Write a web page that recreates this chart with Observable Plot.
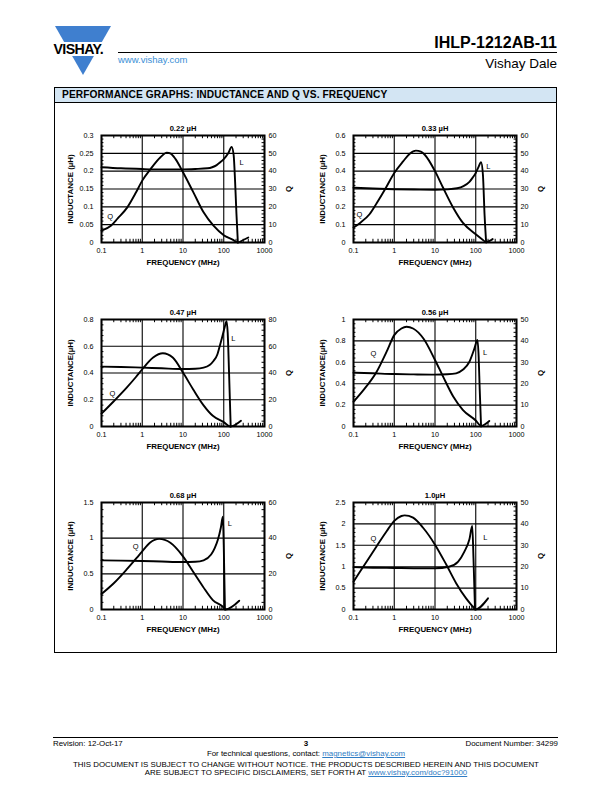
<!DOCTYPE html>
<html>
<head>
<meta charset="utf-8">
<script src="https://cdn.jsdelivr.net/npm/d3@7"></script>
<script src="https://cdn.jsdelivr.net/npm/@observablehq/plot@0.6"></script>
<style>
body { margin: 0; background: #fff; }
#page { position: relative; width: 612px; height: 792px; font-family: "Liberation Sans", Arial, Helvetica, sans-serif; color: #000; overflow: hidden; background: #fff; }
.abs { position: absolute; white-space: nowrap; line-height: 1; }
.chart { position: absolute; }
a { color: #2f7cc4; text-decoration: underline; }
</style>
</head>
<body>
<div id="page">
  <svg class="abs" style="left:50px;top:24px" width="66" height="54" viewBox="50 24 66 54">
    <polygon points="55,26 111,26 83,75" fill="#3f7fcf"/>
    <rect x="50" y="42" width="66" height="14" fill="#fff"/>
    <text x="53.5" y="53.5" font-family="Liberation Sans, Arial, sans-serif" font-weight="bold" font-size="14.2" letter-spacing="-0.6" fill="#000">VISHAY.</text>
  </svg>
  <div class="abs" style="right:55px;top:35px;font-size:16px;font-weight:bold;">IHLP-1212AB-11</div>
  <div class="abs" style="left:118px;top:52px;width:439px;height:1px;background:#000;"></div>
  <div class="abs" style="left:118px;top:55px;font-size:9.5px;color:#3b8fd6;">www.vishay.com</div>
  <div class="abs" style="right:55px;top:57px;font-size:13.5px;">Vishay Dale</div>

  <div class="abs" style="left:54px;top:87px;width:501px;height:564px;border:1px solid #000;"></div>
  <div class="abs" style="left:55px;top:88px;width:501px;height:14px;background:#d3e5f3;border-bottom:1px solid #000;"></div>
  <div class="abs" style="left:62px;top:89.5px;font-size:10.2px;font-weight:bold;letter-spacing:0.1px;">PERFORMANCE GRAPHS: INDUCTANCE AND Q VS. FREQUENCY</div>

  <div class="abs" style="left:53px;top:737px;width:505px;height:1px;background:#000;"></div>
  <div class="abs" style="left:53px;top:739.5px;font-size:7.9px;">Revision: 12-Oct-17</div>
  <div class="abs" style="left:300px;top:740px;width:12px;text-align:center;font-size:8px;font-weight:bold;">3</div>
  <div class="abs" style="right:54px;top:739.5px;font-size:7.9px;">Document Number: 34299</div>
  <div class="abs" style="left:0;width:612px;text-align:center;top:750px;font-size:7.9px;">For technical questions, contact: <a>magnetics@vishay.com</a></div>
  <div class="abs" style="left:0;width:612px;text-align:center;top:760.5px;font-size:7.9px;">THIS DOCUMENT IS SUBJECT TO CHANGE WITHOUT NOTICE. THE PRODUCTS DESCRIBED HEREIN AND THIS DOCUMENT</div>
  <div class="abs" style="left:0;width:612px;text-align:center;top:769px;font-size:7.9px;">ARE SUBJECT TO SPECIFIC DISCLAIMERS, SET FORTH AT <a>www.vishay.com/doc?91000</a></div>
</div>
<script>
// ---- shared axis ticks ----
const freqTicks = [0.1, 1, 10, 100, 1000];

// ---- 0.22 uH ----
const l022Ticks = [0, 0.05, 0.1, 0.15, 0.2, 0.25, 0.3];
const q022Ticks = [0, 10, 20, 30, 40, 50, 60];
const l022F = [0.1, 0.3, 1, 3, 10, 20, 40, 52, 67, 82, 100, 130, 156, 175, 190, 205, 222];
const l022L = [0.211, 0.208, 0.206, 0.205, 0.205, 0.206, 0.208, 0.211, 0.217, 0.225, 0.234, 0.251, 0.268, 0.245, 0.17, 0.08, 0.0];
const q022F = [0.1, 0.17, 0.25, 0.43, 0.7, 1, 1.6, 2.8, 4, 5, 6.5, 10, 18, 32, 56, 100, 170, 222, 300, 400];
const q022Q = [6.6, 9.4, 13.5, 19.7, 28, 34.7, 41.2, 47.8, 50.4, 49.8, 46.9, 39.4, 28.1, 16.9, 9.4, 4.1, 1.5, 0, 1.4, 2.8];

// ---- 0.33 uH ----
const l033Ticks = [0, 0.1, 0.2, 0.3, 0.4, 0.5, 0.6];
const q033Ticks = [0, 10, 20, 30, 40, 50, 60];
const l033F = [0.1, 0.3, 1, 3, 10, 20, 35, 50, 70, 85, 100, 115, 135, 150, 165, 180];
const l033L = [0.307, 0.303, 0.299, 0.297, 0.296, 0.298, 0.304, 0.316, 0.34, 0.365, 0.39, 0.42, 0.45, 0.38, 0.15, 0.0];
const q033F = [0.1, 0.145, 0.25, 0.37, 0.6, 1, 1.65, 2.4, 3.4, 4.5, 5.6, 10, 15.8, 28, 48, 100, 140, 180, 260];
const q033Q = [8.4, 11, 16, 22, 30, 39, 45.5, 49.8, 51.5, 51, 49.2, 40, 30.7, 19.5, 11.1, 4.6, 2, 0.3, 1.9];

// ---- 0.47 uH ----
const l047Ticks = [0, 0.2, 0.4, 0.6, 0.8];
const q047Ticks = [0, 20, 40, 60, 80];
const l047F = [0.1, 0.3, 1, 3, 10, 20, 32, 45, 56, 70, 78, 90, 105, 117, 125, 135, 148];
const l047L = [0.448, 0.445, 0.44, 0.435, 0.43, 0.432, 0.44, 0.46, 0.49, 0.54, 0.59, 0.66, 0.74, 0.787, 0.7, 0.4, 0.0];
const q047F = [0.1, 0.2, 0.41, 0.7, 1, 1.85, 3.2, 5.6, 10, 17.8, 31, 54, 100, 145, 265];
const q047Q = [9.6, 18.9, 28.9, 37, 42.8, 51.6, 54.8, 51.6, 40.3, 27.7, 16.4, 8, 3.3, 0, 4.3];

// ---- 0.56 uH ----
const l056Ticks = [0, 0.2, 0.4, 0.6, 0.8, 1];
const q056Ticks = [0, 10, 20, 30, 40, 50];
const l056F = [0.1, 0.3, 1, 3, 10, 20, 33, 48, 70, 93, 110, 118, 125, 135];
const l056L = [0.503, 0.497, 0.49, 0.487, 0.485, 0.488, 0.497, 0.53, 0.605, 0.73, 0.81, 0.65, 0.35, 0.0];
const q056F = [0.1, 0.175, 0.37, 0.65, 1, 1.5, 2, 2.9, 5.2, 10, 15.8, 28, 48, 100, 135, 215];
const q056Q = [11.6, 17, 25.6, 35, 42.7, 45.8, 46.6, 45.8, 41.1, 31.1, 23.3, 14, 7.8, 2.8, 0.3, 2.6];

// ---- 0.68 uH ----
const l068Ticks = [0, 0.5, 1, 1.5];
const q068Ticks = [0, 20, 40, 60];
const l068F = [0.1, 0.3, 1, 3, 10, 20, 32, 49, 60, 72, 85, 95, 100, 107];
const l068L = [0.689, 0.685, 0.68, 0.672, 0.665, 0.67, 0.69, 0.77, 0.86, 0.98, 1.15, 1.30, 0.9, 0.0];
const q068F = [0.1, 0.2, 0.41, 0.73, 1, 1.54, 2.6, 4.9, 10, 17.6, 31, 54, 100, 110, 240];
const q068Q = [8.7, 14.7, 22.3, 28.9, 32.6, 37.4, 39.6, 37.4, 29.8, 21.3, 12.8, 5.3, 1.1, 0, 4.9];

// ---- 1.0 uH ----
const l100Ticks = [0, 0.5, 1, 1.5, 2, 2.5];
const q100Ticks = [0, 10, 20, 30, 40, 50];
const l100F = [0.1, 0.3, 1, 3, 10, 22, 37, 53, 70, 82, 88, 96];
const l100L = [0.99, 0.975, 0.97, 0.965, 0.965, 1.0, 1.12, 1.36, 1.64, 1.95, 1.2, 0.0];
const q100F = [0.1, 0.175, 0.37, 0.65, 1, 1.5, 1.8, 2.9, 5.1, 10, 19, 33, 58, 85, 97, 200];
const q100Q = [13, 20.1, 29.6, 36.6, 41.4, 43.7, 44, 42.9, 38.2, 30.3, 20.9, 12.3, 5.2, 1.3, 0, 5.2];

const charts = [
  {title: "0.22 µH", ylab: "INDUCTANCE (µH)", lMax: 0.3, qMax: 60, lTicks: l022Ticks, qTicks: q022Ticks, lF: l022F, lV: l022L, qF: q022F, qV: q022Q, tagL: [275, 0.225], tagQ: [0.163, 0.072], left: 40, top: 113},
  {title: "0.33 µH", ylab: "INDUCTANCE (µH)", lMax: 0.6, qMax: 60, lTicks: l033Ticks, qTicks: q033Ticks, lF: l033F, lV: l033L, qF: q033F, qV: q033Q, tagL: [204, 0.424], tagQ: [0.14, 0.158], left: 292, top: 113},
  {title: "0.47 µH", ylab: "INDUCTANCE(µH)", lMax: 0.8, qMax: 80, lTicks: l047Ticks, qTicks: q047Ticks, lF: l047F, lV: l047L, qF: q047F, qV: q047Q, tagL: [172, 0.654], tagQ: [0.185, 0.247], left: 40, top: 297},
  {title: "0.56 µH", ylab: "INDUCTANCE(µH)", lMax: 1, qMax: 50, lTicks: l056Ticks, qTicks: q056Ticks, lF: l056F, lV: l056L, qF: q056F, qV: q056Q, tagL: [169, 0.693], tagQ: [0.307, 0.677], left: 292, top: 297},
  {title: "0.68 µH", ylab: "INDUCTANCE (µH)", lMax: 1.5, qMax: 60, lTicks: l068Ticks, qTicks: q068Ticks, lF: l068F, lV: l068L, qF: q068F, qV: q068Q, tagL: [140, 1.21], tagQ: [0.687, 0.877], left: 40, top: 480},
  {title: "1.0µH", ylab: "INDUCTANCE (µH)", lMax: 2.5, qMax: 50, lTicks: l100Ticks, qTicks: q100Ticks, lF: l100F, lV: l100L, qF: q100F, qV: q100Q, tagL: [172, 1.675], tagQ: [0.307, 1.65], left: 292, top: 480}
];

const FONT = "Liberation Sans, Arial, Helvetica, sans-serif";
const xMinor = [];
for (const d of freqTicks.slice(0, -1)) for (let m = 2; m <= 9; m++) xMinor.push(d * m);

function makeChart(c) {
  const k = c.lMax / c.qMax;
  const lData = c.lF.map((f, i) => ({f, v: c.lV[i]}));
  const qData = c.qF.map((f, i) => ({f, v: c.qV[i] * k}));
  const yMinor = [];
  for (let i = 0; i < c.lTicks.length - 1; i++) {
    const a = c.lTicks[i], b = c.lTicks[i + 1];
    for (let j = 1; j < 5; j++) yMinor.push(a + (b - a) * j / 5);
  }
  const fmt = d => String(d);
  const lab = {fontWeight: "bold", fontSize: 7.9, fill: "#000", textAnchor: "middle", lineAnchor: "middle"};
  const svg = Plot.plot({
    width: 270, height: 167,
    marginLeft: 61, marginRight: 46, marginTop: 22, marginBottom: 38,
    style: {fontFamily: FONT, fontSize: "7.2px", background: "transparent", overflow: "visible", color: "#000"},
    x: {type: "log", domain: [0.1, 1000]},
    y: {domain: [0, c.lMax]},
    marks: [
      Plot.gridX(freqTicks, {stroke: "#000", strokeOpacity: 1, strokeWidth: 1.1}),
      Plot.gridY(c.lTicks, {stroke: "#000", strokeOpacity: 1, strokeWidth: 1.1}),
      Plot.ruleX(xMinor, {y1: 0, y2: c.lMax * 0.03, stroke: "#000", strokeWidth: 1}),
      Plot.ruleX(xMinor, {y1: c.lMax, y2: c.lMax * 0.97, stroke: "#000", strokeWidth: 1}),
      Plot.ruleY(yMinor, {x1: 0.1, x2: 0.1 * Math.pow(10, 0.06), stroke: "#000", strokeWidth: 1}),
      Plot.ruleY(yMinor, {x1: 1000, x2: 1000 / Math.pow(10, 0.06), stroke: "#000", strokeWidth: 1}),
      Plot.line(lData, {x: "f", y: "v", curve: "monotone-x", stroke: "#000", strokeWidth: 1.9}),
      Plot.line(qData, {x: "f", y: "v", curve: "monotone-x", stroke: "#000", strokeWidth: 1.9}),
      Plot.text([c.tagL], {x: d => d[0], y: d => d[1], text: () => "L", fontSize: 7.5, fill: "#000"}),
      Plot.text([c.tagQ], {x: d => d[0], y: d => d[1], text: () => "Q", fontSize: 7.5, fill: "#000"}),
      Plot.frame({stroke: "#000", strokeWidth: 2}),
      Plot.axisX(freqTicks, {anchor: "bottom", tickSize: 0, tickPadding: 5, tickFormat: fmt, label: null, fill: "#000"}),
      Plot.axisY(c.lTicks, {anchor: "left", tickSize: 0, tickPadding: 8, tickFormat: fmt, label: null, fill: "#000"}),
      Plot.axisY(c.qTicks, {anchor: "right", y: d => d * k, tickSize: 0, tickPadding: 4, tickFormat: fmt, label: null, fill: "#000"}),
      Plot.text([c.title], {frameAnchor: "top", dy: -7, ...lab, fontSize: 7.6}),
      Plot.text(["FREQUENCY (MHz)"], {frameAnchor: "bottom", dy: 19.5, ...lab}),
      Plot.text([c.ylab], {frameAnchor: "left", dx: -31, rotate: -90, ...lab}),
      Plot.text(["Q"], {frameAnchor: "right", dx: 24, rotate: -90, ...lab})
    ]
  });
  svg.classList.add("chart");
  svg.style.left = c.left + "px";
  svg.style.top = c.top + "px";
  svg.style.position = "absolute";
  return svg;
}

const page = document.getElementById("page");
for (const c of charts) page.appendChild(makeChart(c));
</script>
</body>
</html>
